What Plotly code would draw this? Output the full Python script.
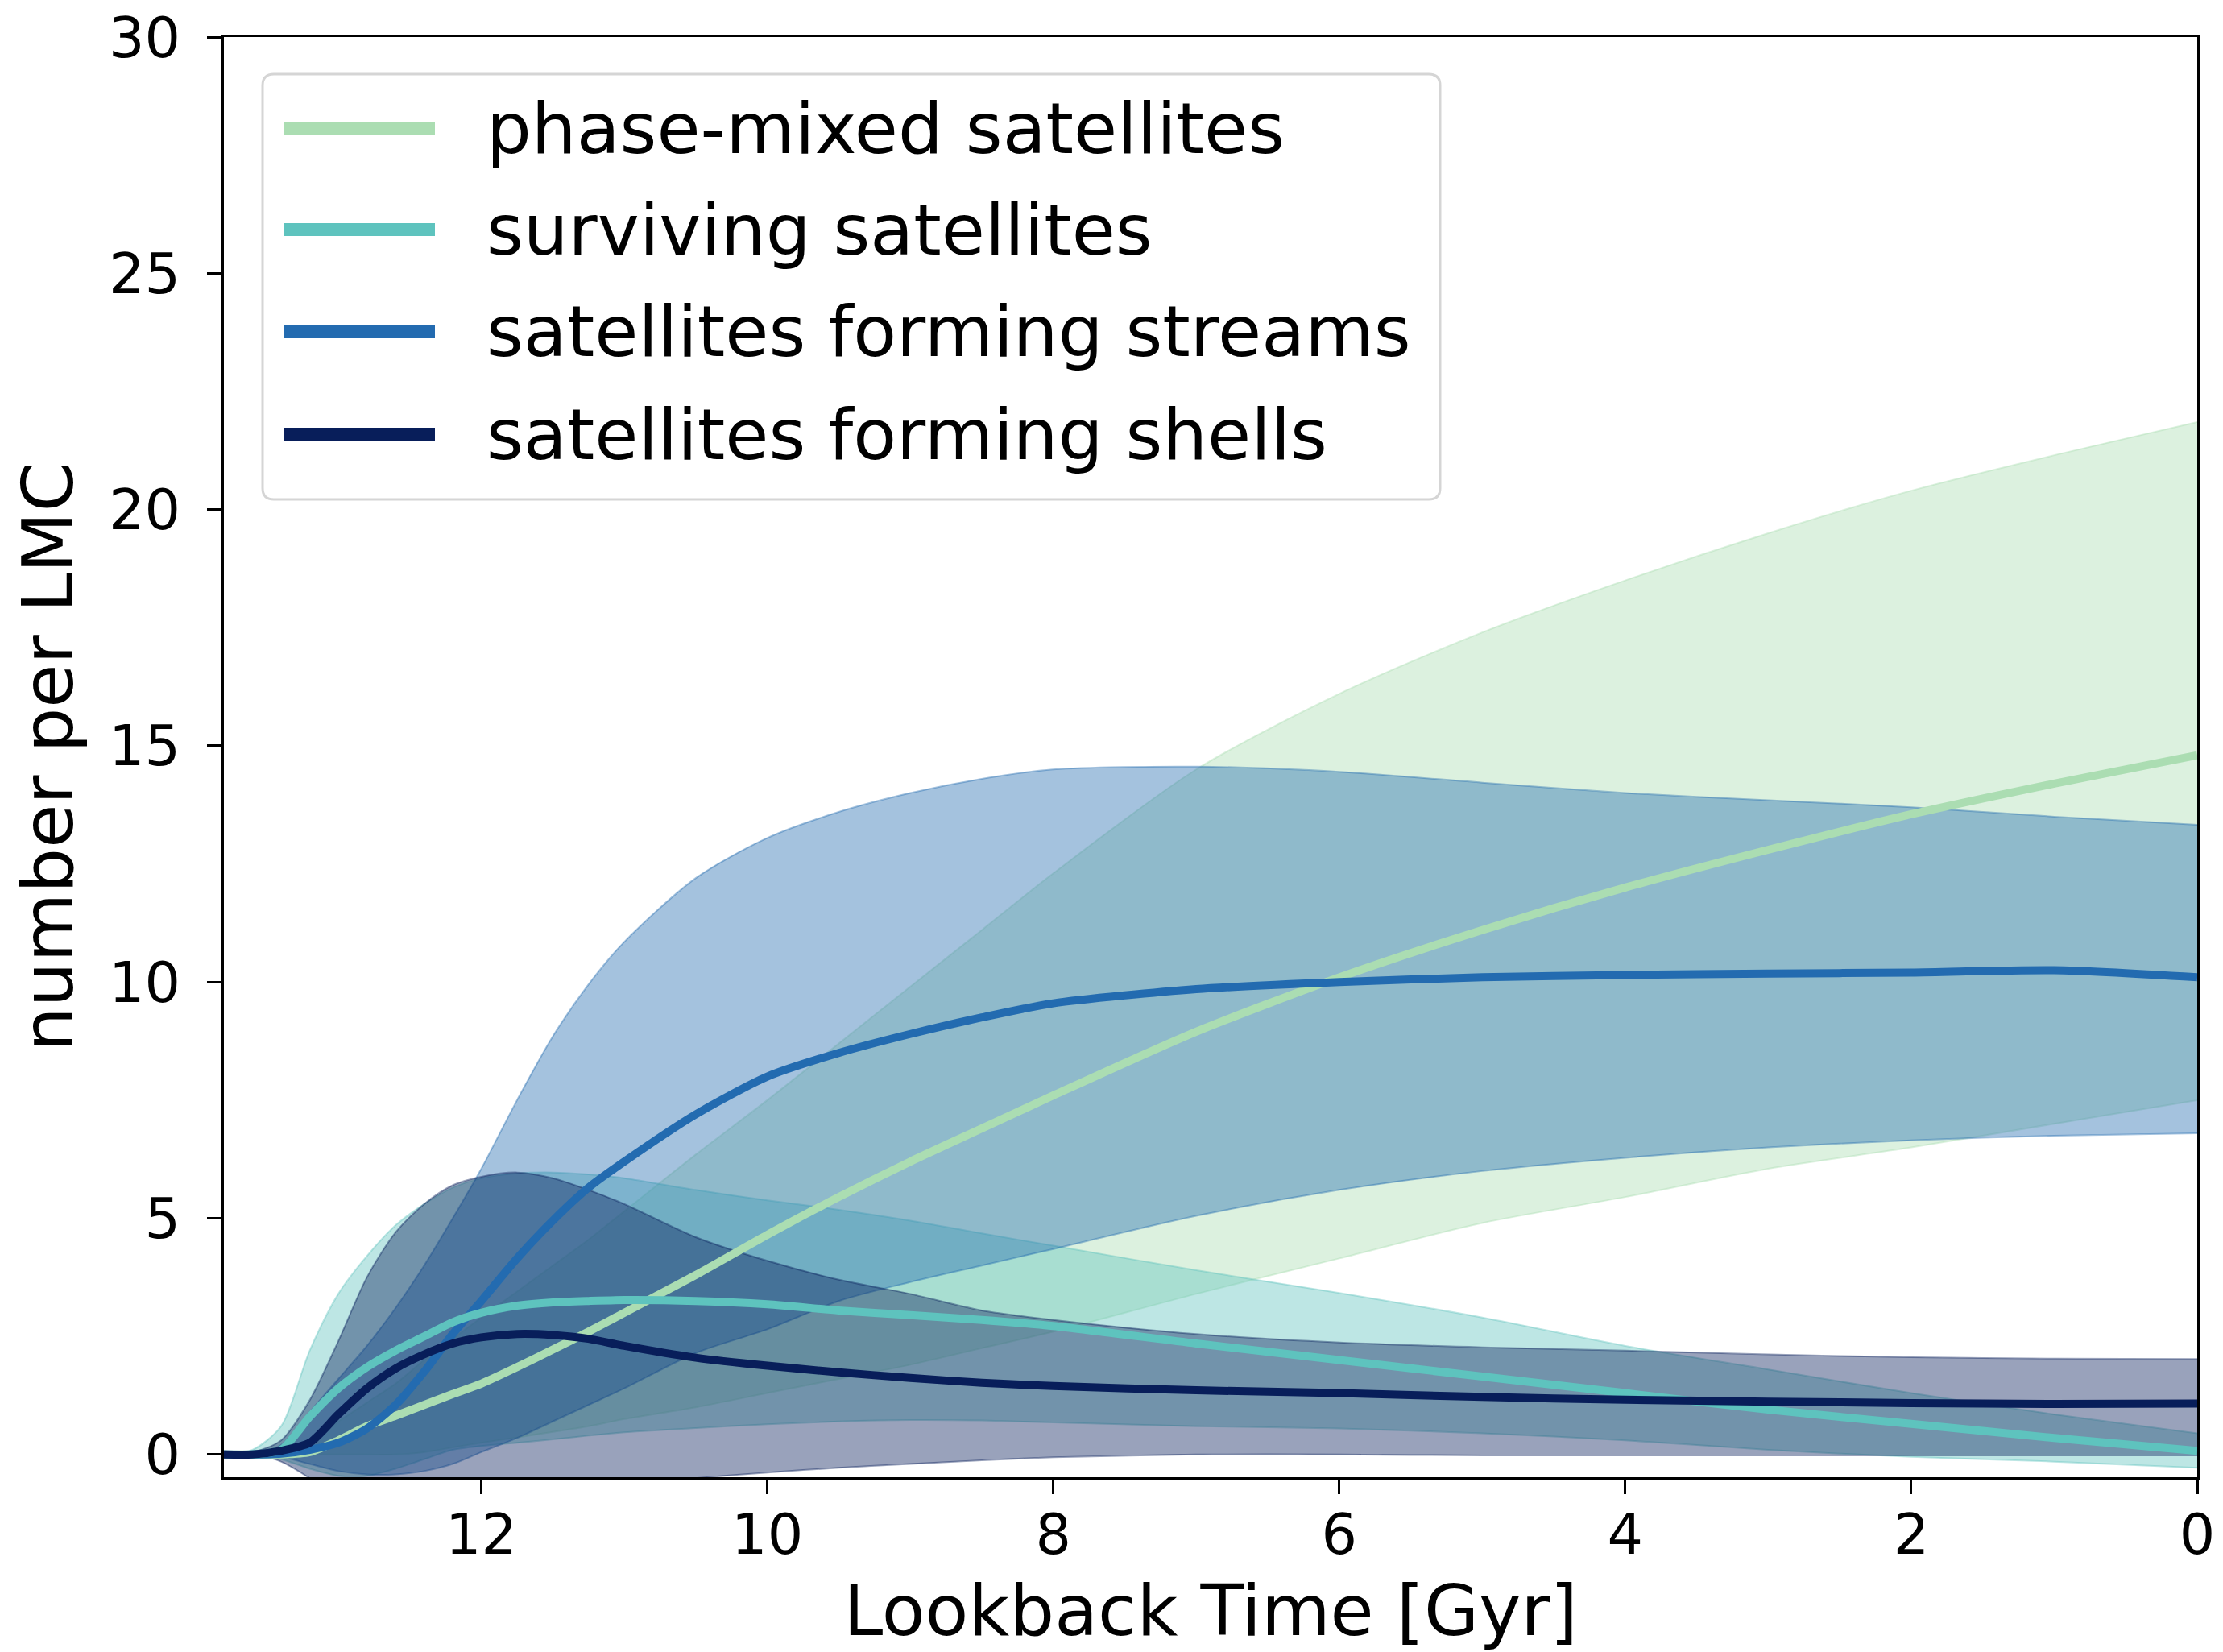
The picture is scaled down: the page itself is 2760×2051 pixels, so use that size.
import plotly.graph_objects as go

# ---------------- data ----------------
t = [13.8, 13.6, 13.4, 13.2, 13.0, 12.8, 12.6, 12.4, 12.2, 12.0, 11.75, 11.5, 11.25, 11.0,
     10.5, 10.0, 9.5, 9.0, 8.5, 8.0, 7.0, 6.0, 5.0, 4.0, 3.0, 2.0, 1.0, 0.0]

pm_med = [0, 0, 0, 0.05, 0.3, 0.6, 0.82, 1.05, 1.28, 1.5, 1.85, 2.22, 2.6, 3.0,
          3.8, 4.65, 5.45, 6.2, 6.9, 7.6, 8.95, 10.1, 11.1, 12.0, 12.8, 13.55, 14.2, 14.8]
pm_lo = [0, 0, 0, 0, 0, 0, 0, 0.05, 0.15, 0.25, 0.36, 0.48, 0.6, 0.75,
         1.0, 1.3, 1.6, 1.9, 2.25, 2.6, 3.4, 4.15, 4.9, 5.45, 6.05, 6.5, 7.0, 7.5]
pm_hi = [0, 0, 0.05, 0.3, 0.7, 1.1, 1.5, 2.0, 2.45, 2.9, 3.45, 4.0, 4.55, 5.15,
         6.35, 7.5, 8.7, 9.9, 11.1, 12.3, 14.5, 16.1, 17.4, 18.5, 19.5, 20.4, 21.15, 21.85]

sv_med = [0, 0, 0.1, 0.8, 1.4, 1.85, 2.2, 2.5, 2.8, 3.0, 3.15, 3.22, 3.25, 3.27,
          3.25, 3.18, 3.05, 2.95, 2.85, 2.72, 2.35, 2.0, 1.65, 1.3, 0.95, 0.65, 0.35, 0.08]
sv_lo = [0, 0, -0.1, -0.3, -0.45, -0.45, -0.3, -0.1, 0.1, 0.18, 0.25, 0.32, 0.4, 0.47,
         0.56, 0.64, 0.7, 0.73, 0.72, 0.68, 0.6, 0.55, 0.45, 0.3, 0.1, -0.05, -0.15, -0.28]
sv_hi = [0, 0.1, 0.6, 2.2, 3.4, 4.2, 4.85, 5.3, 5.65, 5.85, 5.95, 5.97, 5.93, 5.85,
         5.6, 5.38, 5.18, 4.95, 4.68, 4.42, 3.9, 3.42, 2.9, 2.3, 1.8, 1.3, 0.85, 0.45]

st_med = [0, 0, 0.02, 0.1, 0.25, 0.55, 1.05, 1.75, 2.55, 3.25, 4.15, 4.95, 5.65, 6.2,
          7.2, 8.0, 8.5, 8.9, 9.25, 9.55, 9.85, 10.0, 10.1, 10.15, 10.18, 10.2, 10.25, 10.1]
st_lo = [0, 0, -0.05, -0.2, -0.35, -0.42, -0.42, -0.35, -0.2, 0.05, 0.35, 0.7, 1.05, 1.4,
         2.15, 2.65, 3.25, 3.65, 4.0, 4.35, 5.05, 5.6, 6.0, 6.28, 6.5, 6.65, 6.75, 6.8]
st_hi = [0, 0, 0.2, 0.9, 1.6, 2.3, 3.1, 4.0, 5.0, 6.05, 7.5, 8.85, 9.95, 10.85,
         12.2, 13.05, 13.6, 14.0, 14.3, 14.5, 14.56, 14.45, 14.22, 14.0, 13.85, 13.7, 13.5, 13.33]

sh_med = [0, 0, 0.08, 0.25, 0.85, 1.4, 1.82, 2.12, 2.35, 2.48, 2.55, 2.53, 2.45, 2.3,
          2.05, 1.88, 1.74, 1.62, 1.52, 1.45, 1.36, 1.3, 1.22, 1.16, 1.12, 1.09, 1.07, 1.08]
sh_lo = [0, 0, -0.15, -0.5, -0.9, -1.1, -1.2, -1.2, -1.15, -1.05, -0.95, -0.85, -0.75, -0.65,
         -0.5, -0.38, -0.28, -0.2, -0.12, -0.06, 0.0, 0.0, -0.02, -0.02, -0.02, -0.02, -0.02, -0.02]
sh_hi = [0, 0.05, 0.3, 1.15, 2.4, 3.75, 4.7, 5.3, 5.7, 5.88, 5.97, 5.85, 5.6, 5.3,
         4.6, 4.1, 3.7, 3.4, 3.05, 2.85, 2.55, 2.37, 2.27, 2.2, 2.12, 2.06, 2.03, 2.02]

labels = ["phase-mixed satellites", "surviving satellites",
          "satellites forming streams", "satellites forming shells"]
y_ticks = [0, 5, 10, 15, 20, 25, 30]
x_ticks = [12, 10, 8, 6, 4, 2, 0]

# ---------------- styling ----------------
FONT = "DejaVu Sans"
cols = {
    "pm": (171, 221, 178),
    "sv": (94, 195, 190),
    "st": (35, 107, 176),
    "sh": (8, 30, 90),
}
ALPHA = 0.41


def rgb(c):
    return "rgb(%d,%d,%d)" % c


def rgba(c, a):
    return "rgba(%d,%d,%d,%.3f)" % (c[0], c[1], c[2], a)


series = [
    ("pm", labels[0], pm_med, pm_lo, pm_hi),
    ("sv", labels[1], sv_med, sv_lo, sv_hi),
    ("st", labels[2], st_med, st_lo, st_hi),
    ("sh", labels[3], sh_med, sh_lo, sh_hi),
]

fig = go.Figure()

# bands (lower edge, then upper edge filled down to it)
for key, name, med, lo, hi in series:
    edge = dict(color=rgba(cols[key], ALPHA), width=2, shape="spline", smoothing=0.8)
    fig.add_trace(go.Scatter(x=t, y=lo, mode="lines", line=edge,
                             hoverinfo="skip", showlegend=False))
    fig.add_trace(go.Scatter(x=t, y=hi, mode="lines", line=edge,
                             fill="tonexty", fillcolor=rgba(cols[key], ALPHA),
                             hoverinfo="skip", showlegend=False))

# median lines
for idx in [0, 2, 1, 3]:
    key, name, med, lo, hi = series[idx]
    fig.add_trace(go.Scatter(
        x=t, y=med, mode="lines", name=name,
        line=dict(color=rgb(cols[key]), width=10, shape="spline", smoothing=0.7),
        showlegend=False,
    ))

# ---------------- layout ----------------
W, H = 2760, 2051
ML, MR, MT, MB = 278, 32, 46, 217
PW, PH = W - ML - MR, H - MT - MB

axis_common = dict(
    showgrid=False, zeroline=False, showline=True, mirror=True,
    linecolor="black", linewidth=3,
    ticks="outside", ticklen=18, tickwidth=3, tickcolor="black",
    tickfont=dict(family=FONT, size=70, color="black"),
    automargin=False,
)

fig.update_layout(
    width=W, height=H,
    margin=dict(l=ML, r=MR, t=MT, b=MB, autoexpand=False),
    paper_bgcolor="white", plot_bgcolor="white",
    showlegend=False,
    xaxis=dict(range=[13.8, 0], tickvals=x_ticks, ticktext=[str(v) for v in x_ticks],
               ticklabelstandoff=-10,
               title=dict(text="Lookback Time [Gyr]", font=dict(family=FONT, size=88, color="black"),
                          standoff=40),
               **axis_common),
    yaxis=dict(range=[-0.48, 30], tickvals=y_ticks, ticktext=[str(v) for v in y_ticks],
               ticklabelstandoff=19,
               title=dict(text="number per LMC", font=dict(family=FONT, size=88, color="black"),
                          standoff=16),
               **axis_common),
)

# ---------------- legend (drawn as box + lines + text) ----------------
def px2paper_x(X):
    return (X - ML) / PW


def px2paper_y(Y):
    return (H - MB - Y) / PH


bx0, bx1 = px2paper_x(326), px2paper_x(1788)
by0, by1 = px2paper_y(620), px2paper_y(92)
rx, ry = 14 / PW, 14 / PH
path = (f"M{bx0+rx},{by0} L{bx1-rx},{by0} Q{bx1},{by0} {bx1},{by0+ry} "
        f"L{bx1},{by1-ry} Q{bx1},{by1} {bx1-rx},{by1} "
        f"L{bx0+rx},{by1} Q{bx0},{by1} {bx0},{by1-ry} "
        f"L{bx0},{by0+ry} Q{bx0},{by0} {bx0+rx},{by0} Z")
fig.add_shape(type="path", path=path, xref="paper", yref="paper",
              fillcolor="rgba(255,255,255,0.8)", line=dict(color="#d5d5d5", width=3), layer="above")

row_y = [160, 285, 412, 539]
for (key, name, med, lo, hi), Y in zip(series, row_y):
    yp = px2paper_y(Y)
    fig.add_shape(type="line", xref="paper", yref="paper",
                  x0=px2paper_x(352), x1=px2paper_x(540), y0=yp, y1=yp,
                  line=dict(color=rgb(cols[key]), width=16), layer="above")
    fig.add_annotation(x=px2paper_x(602), y=yp, xref="paper", yref="paper",
                       text=name, showarrow=False, xanchor="left", yanchor="middle",
                       font=dict(family=FONT, size=88, color="black"))

fig.write_html("out.html")
